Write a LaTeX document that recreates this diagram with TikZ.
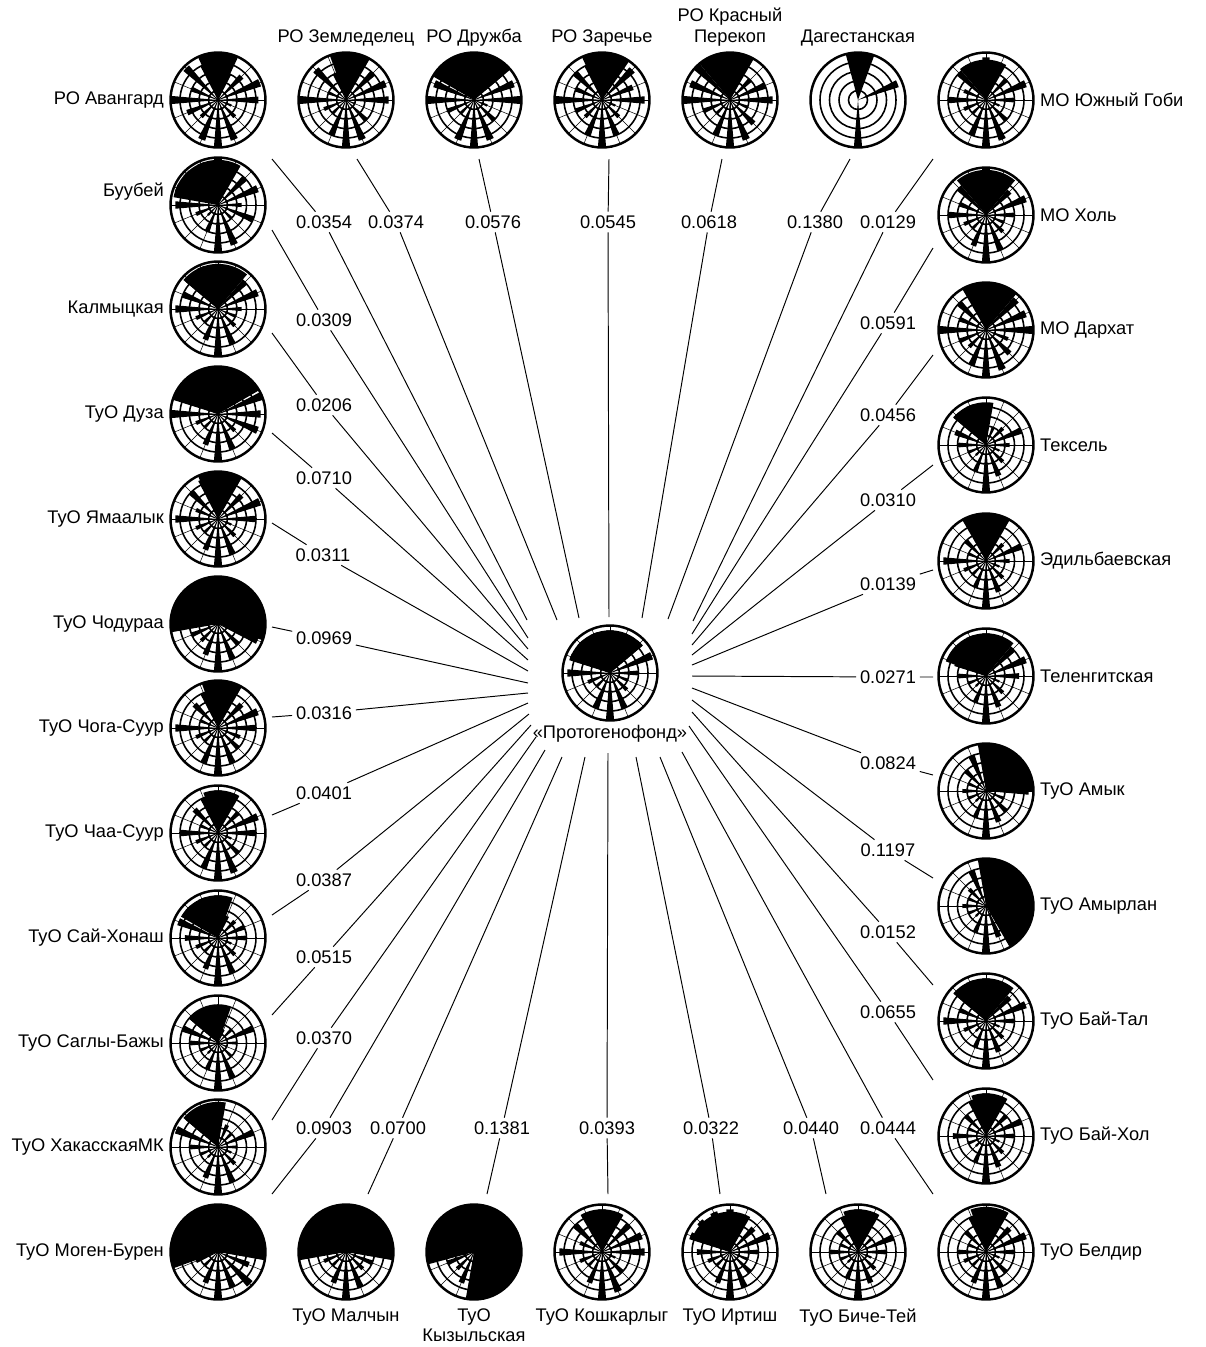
\documentclass[tikz,border=0pt]{standalone}
\usepackage{fontspec}
\setmainfont{Liberation Sans}
\usetikzlibrary{positioning}

\newcommand{\lbl}{\fontsize{10.4}{11.4}\selectfont}
\newif\ifspokes \spokestrue
% rose glyph: #1 node, #2:#3 angles of the big sector, #4 its length,
% #5 sixteen ray lengths, clockwise from north
\newcommand{\rose}[5]{%
  \begin{scope}[shift={(#1.center)}]
    \foreach \rad in {9.5,19,28.5,38}
      \draw[ringline] (0,0) circle[radius=\rad*0.02cm];
    \ifspokes
      \foreach \a in {0,22.5,...,337.5}
        \draw[spokeline] (0,0) -- (\a:47.5);
    \fi
    \fill (0,0) -- plot[domain=#2:#3, samples=24] (\x:{#4*47.5}) -- cycle;
    \foreach \len [count=\k from 0] in {#5}{
      \pgfmathsetmacro\aa{90-22.5*\k-5}
      \pgfmathsetmacro\ab{90-22.5*\k+5}
      \fill (0,0) -- plot[domain=\aa:\ab, samples=4] (\x:{\len*47.5}) -- cycle;
    }
    \draw[rimline] (0,0) circle[radius=0.95cm];
  \end{scope}}

\begin{document}
\begin{tikzpicture}[
    x=0.02cm, y=0.02cm,
    rosenode/.style={circle, minimum size=1.9cm, inner sep=0pt},
    ringline/.style={line width=0.9pt},
    spokeline/.style={line width=0.3pt},
    rimline/.style={line width=1.4pt},
    poplabel/.style={font=\lbl, align=center, inner sep=2pt},
    dist/.style={font=\lbl, inner sep=2pt},
    link/.style={line width=0.55pt}
]
\useasboundingbox (0,0) rectangle (1206,-1347);

% Top row
\foreach \n/\x in {avangard/218, zemledelec/346, druzhba/474, zareche/602, perekop/730, dagestan/858, gobi/986}
  \node[rosenode] (\n) at (\x,-100) {};
% Left column
\foreach \n/\y in {buubei/205, kalmyk/309, duza/414, yamaalyk/519, chodura/624, chogasuur/728, chaasuur/833, saihonash/938, sagly/1043, khakas/1147, mogen/1252}
  \node[rosenode] (\n) at (218,-\y) {};
% Bottom row
\foreach \n/\x in {malchyn/346, kyzyl/474, koshkar/602, irtish/730, biche/858, beldir/986}
  \node[rosenode] (\n) at (\x,-1252) {};
% Right column
\foreach \n/\y in {khol/215, darkhat/330, texel/445, edilbai/561, teleng/676, amyk/791, amyrlan/906, baital/1021, baihol/1136}
  \node[rosenode] (\n) at (986,-\y) {};
% Centre
\node[rosenode] (proto) at (610,-673) {};
\node[poplabel, below=0.02cm of proto] (lproto) {«Протогенофонд»};

% Glyphs
\rose{avangard}{65}{115}{1}{1,.6,.7,.95,.85,.3,.5,.9,1,.9,.5,.7,1,.6,.95,.8}
\rose{zemledelec}{60}{110}{1}{1,.5,.8,.9,.9,.2,.6,.9,1,.8,.4,.5,1,.4,.9,.6}
\rose{druzhba}{40}{150}{1}{1,1,.8,.9,1,.3,.6,.9,1,.9,.4,.6,1,.9,1,1}
\rose{zareche}{55}{115}{1}{1,.6,.9,.7,.9,.3,.5,.8,1,.8,.5,.6,1,.6,.8,.8}
\rose{perekop}{60}{130}{1}{1,.7,.6,.8,.9,.4,.7,.9,1,.8,.4,.6,1,.9,1,.9}
\spokesfalse
\rose{dagestan}{70}{105}{1}{0,0,0,.9,0,0,0,0,1,0,0,0,0,0,0,0}
\spokestrue
\rose{gobi}{60}{130}{.85}{.9,.8,.6,.9,.6,.3,.6,.9,1,.8,.4,.5,.8,.5,.8,.8}
\rose{buubei}{60}{170}{.95}{1,.6,.8,.9,.5,.8,.4,.9,1,.6,.3,.5,.9,.95,.95,.95}
\rose{kalmyk}{50}{140}{.95}{.95,.8,.8,.9,.5,.4,.5,.8,1,.7,.4,.5,.9,.8,.9,.95}
\rose{duza}{30}{160}{1}{1,1,1,1,.9,.9,.5,.8,1,.7,.4,.5,1,1,1,1}
\rose{yamaalyk}{60}{115}{1}{1,.6,.7,.95,.8,.3,.5,.8,1,.7,.4,.5,.9,.5,.8,.9}
\rose{chodura}{-20}{190}{1}{1,1,1,1,1,.9,.6,.8,1,.7,.5,.6,1,1,1,1}
\rose{chogasuur}{60}{110}{1}{1,.6,.7,.9,.8,.5,.6,.8,1,.8,.4,.5,.9,.4,.7,.8}
\rose{chaasuur}{60}{110}{.9}{.9,.5,.6,.9,.8,.3,.6,.9,1,.8,.4,.5,.8,.4,.7,.8}
\rose{saihonash}{70}{150}{.9}{.9,.5,.5,.6,.6,.3,.5,.8,1,.7,.4,.5,.7,.9,.9,.9}
\rose{sagly}{70}{140}{.8}{.8,.3,.4,.8,.4,.2,.4,.8,1,.6,.3,.4,.6,.8,.8,.8}
\rose{khakas}{80}{140}{.95}{.95,.5,.4,.8,.4,.3,.5,.8,1,.7,.3,.4,.6,.95,.9,.9}
\rose{mogen}{-10}{200}{1}{1,1,1,1,.9,.7,.95,.8,1,.7,.4,.5,1,1,1,1}
\rose{malchyn}{-10}{190}{1}{1,1,1,1,1,.6,.5,.8,1,.7,.4,.5,1,1,1,1}
\rose{kyzyl}{-100}{195}{1}{1,1,1,1,1,1,.95,.8,1,.7,.5,.6,1,1,1,1}
\rose{koshkar}{60}{120}{.9}{.9,.7,.8,.9,.9,.3,.6,.9,1,.7,.4,.5,.9,.5,.8,.8}
\rose{irtish}{60}{160}{.85}{.9,.6,.7,.9,.6,.4,.6,.8,1,.7,.4,.5,.7,.9,.9,.9}
\rose{biche}{60}{110}{.9}{.9,.5,.4,.8,.6,.3,.5,.7,1,.6,.3,.4,.6,.4,.6,.8}
\rose{beldir}{60}{110}{.95}{.95,.6,.7,.9,.6,.3,.6,.8,1,.7,.4,.5,.6,.4,.6,.8}
\rose{khol}{50}{130}{.95}{1,.8,.7,.9,.6,.4,.5,.8,1,.7,.4,.5,.8,.6,.8,.9}
\rose{darkhat}{50}{120}{1}{.95,.7,.9,.9,1,.5,.7,.9,1,.8,.5,.6,1,.6,.8,.9}
\rose{texel}{80}{140}{.9}{.8,.4,.5,.8,.5,.3,.5,.7,1,.6,.3,.4,.6,.7,.9,.9}
\rose{edilbai}{60}{120}{1}{.9,.5,.5,.8,.5,.3,.5,.7,1,.6,.4,.5,.9,.4,.6,.8}
\rose{teleng}{50}{160}{.9}{.9,.7,.8,.9,.7,.3,.5,.7,1,.6,.3,.4,.6,.7,.8,.9}
\rose{amyk}{0}{100}{1}{1,1,1,1,.9,.4,.6,.7,1,.6,.3,.4,.5,.4,.6,.8}
\rose{amyrlan}{-60}{100}{1}{1,1,1,1,1,1,1,.7,1,.6,.3,.4,.5,.4,.5,.8}
\rose{baital}{50}{140}{.9}{.9,.6,.7,.9,.6,.3,.5,.7,1,.6,.3,.5,.9,.6,.8,.9}
\rose{baihol}{60}{110}{.9}{.9,.5,.6,.8,.6,.3,.5,.7,1,.6,.3,.4,.7,.4,.6,.8}
\rose{proto}{40}{160}{.9}{.9,.8,.9,.95,.6,.4,.5,.8,1,.8,.4,.5,.9,.9,.9,.9}

% Population names
\node[poplabel, left=0.05cm of avangard] (lavangard) {РО Авангард};
\node[poplabel, above=0.05cm of zemledelec] (lzemledelec) {РО Земледелец};
\node[poplabel, above=0.05cm of druzhba] (ldruzhba) {РО Дружба};
\node[poplabel, above=0.05cm of zareche] (lzareche) {РО Заречье};
\node[poplabel, above=0.05cm of perekop] (lperekop) {РО Красный\\Перекоп};
\node[poplabel, above=0.05cm of dagestan] (ldagestan) {Дагестанская};
\node[poplabel, right=0.05cm of gobi] (lgobi) {МО Южный Гоби};
\node[poplabel, left=0.05cm of buubei, yshift=0.26cm] (lbuubei) {Буубей};
\foreach \n/\t in {kalmyk/Калмыцкая, duza/ТуО Дуза, yamaalyk/ТуО Ямаалык, chodura/ТуО Чодураа, chogasuur/ТуО Чога-Суур, chaasuur/ТуО Чаа-Суур, saihonash/ТуО Сай-Хонаш, sagly/ТуО Саглы-Бажы, khakas/ТуО ХакасскаяМК, mogen/ТуО Моген-Бурен}
  \node[poplabel, left=0.05cm of \n] (l\n) {\t};
\foreach \n/\t in {malchyn/ТуО Малчын, kyzyl/ТуО\\Кызыльская, koshkar/ТуО Кошкарлыг, irtish/ТуО Иртиш, biche/ТуО Биче-Тей}
  \node[poplabel, below=0.1cm of \n] (l\n) {\t};
\foreach \n/\t in {beldir/ТуО Белдир, khol/МО Холь, darkhat/МО Дархат, texel/Тексель, edilbai/Эдильбаевская, teleng/Теленгитская, amyk/ТуО Амык, amyrlan/ТуО Амырлан, baital/ТуО Бай-Тал, baihol/ТуО Бай-Хол}
  \node[poplabel, right=0.05cm of \n] (l\n) {\t};

% Distances
\foreach \i/\x/\y/\t in {1/324/222/0.0354, 2/396/222/0.0374, 3/493/222/0.0576, 4/608/222/0.0545, 5/709/222/0.0618, 6/815/222/0.1380, 7/888/222/0.0129,
    8/324/320/0.0309, 9/324/405/0.0206, 10/324/478/0.0710, 11/323/555/0.0311, 12/324/638/0.0969, 13/324/713/0.0316, 14/324/793/0.0401, 15/324/880/0.0387, 16/324/957/0.0515, 17/324/1038/0.0370, 18/324/1128/0.0903,
    19/398/1128/0.0700, 20/502/1128/0.1381, 21/607/1128/0.0393, 22/711/1128/0.0322, 23/811/1128/0.0440, 24/888/1128/0.0444,
    25/888/323/0.0591, 26/888/415/0.0456, 27/888/500/0.0310, 28/888/584/0.0139, 29/888/677/0.0271, 30/888/763/0.0824, 31/888/850/0.1197, 32/888/932/0.0152, 33/888/1012/0.0655}
  \node[dist] (d\i) at (\x,-\y) {\t};

% Line ends
\foreach \i/\x/\y in {1/272/159, 2/357/159, 3/479/159, 4/609/159, 5/722/159, 6/850/159, 7/933/159,
    8/272/230, 9/272/333, 10/272/433, 11/272/523, 12/272/627, 13/272/717, 14/272/815, 15/272/915, 16/272/1015, 17/272/1120, 18/272/1194,
    19/368/1194, 20/487/1194, 21/608/1194, 22/720/1194, 23/826/1194, 24/933/1194,
    25/933/248, 26/933/355, 27/933/465, 28/933/570, 29/933/677, 30/933/775, 31/933/878, 32/933/985, 33/933/1080}
  \coordinate (s\i) at (\x,-\y);
\foreach \i/\x/\y in {1/527/620, 2/557/620, 3/579/618, 4/609/617, 5/642/618, 6/668/619, 7/693/621,
    8/528/638, 9/528/649, 10/528/660, 11/528/671, 12/528/683, 13/528/693, 14/528/703, 15/529/714, 16/531/725, 17/536/737, 18/545/750,
    19/562/757, 20/585/757, 21/608/753, 22/636/757, 23/660/757, 24/682/752,
    25/692/634, 26/692/645, 27/692/655, 28/692/665, 29/692/676, 30/692/688, 31/692/700, 32/692/712, 33/689/726}
  \coordinate (e\i) at (\x,-\y);

% Links
\foreach \i in {1,...,33}
  \draw[link] (s\i) -- (d\i) -- (e\i);
\end{tikzpicture}
\end{document}
